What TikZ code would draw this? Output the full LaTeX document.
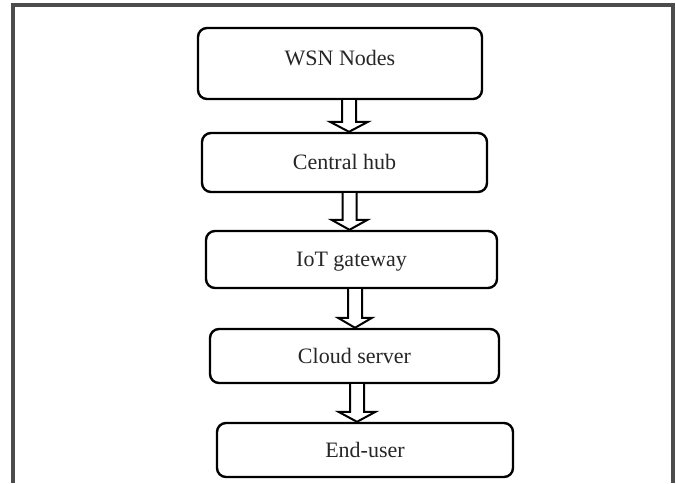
\documentclass[tikz,border=0pt]{standalone}
\usepackage{fontspec}
\setmainfont{Liberation Serif}
\usetikzlibrary{calc}
\tikzset{
  box/.style={draw=black, line width=1.2pt, rounded corners=4.5pt, inner sep=0pt,
    font=\fontsize{11}{13}\selectfont, text=black!85, text height=7pt, text depth=0pt},
  blk/.style={draw=black, fill=white, line width=1pt, line join=miter},
  frame/.style={draw=black!70, line width=1.6pt}
}
\begin{document}
\begin{tikzpicture}[x=0.5pt, y=-0.5pt]
\useasboundingbox (0,0) rectangle (676,483);
\draw[frame] (13,483) -- (13,5) -- (673,5) -- (673,483);

\node[box, minimum width=142pt, minimum height=35.5pt, text depth=5.5pt] (a) at (340,63.5) {WSN Nodes};
\node[box, minimum width=142.5pt, minimum height=29.5pt] (b) at (344.5,162.5) {Central hub};
\node[box, minimum width=145.5pt, minimum height=28.5pt] (c) at (351.5,259.5) {IoT gateway};
\node[box, minimum width=144.5pt, minimum height=27pt] (d) at (354.5,356) {Cloud server};
\node[box, minimum width=148pt, minimum height=27pt] (e) at (365,450) {End-user};

\coordinate (x1) at (349,0);
\coordinate (x2) at (349.5,0);
\coordinate (x3) at (355,0);
\coordinate (x4) at (357,0);

\draw[blk] ($(a.south -| x1)+(-7,0)$) -- ($(b.north -| x1)+(-7,-10)$) -- ($(b.north -| x1)+(-19,-10)$)
  -- (b.north -| x1) -- ($(b.north -| x1)+(19,-10)$) -- ($(b.north -| x1)+(7,-10)$) -- ($(a.south -| x1)+(7,0)$);
\draw[blk] ($(b.south -| x2)+(-7,0)$) -- ($(c.north -| x2)+(-7,-10)$) -- ($(c.north -| x2)+(-18,-10)$)
  -- (c.north -| x2) -- ($(c.north -| x2)+(18,-10)$) -- ($(c.north -| x2)+(7,-10)$) -- ($(b.south -| x2)+(7,0)$);
\draw[blk] ($(c.south -| x3)+(-7,0)$) -- ($(d.north -| x3)+(-7,-10)$) -- ($(d.north -| x3)+(-17,-10)$)
  -- (d.north -| x3) -- ($(d.north -| x3)+(17,-10)$) -- ($(d.north -| x3)+(7,-10)$) -- ($(c.south -| x3)+(7,0)$);
\draw[blk] ($(d.south -| x4)+(-7,0)$) -- ($(e.north -| x4)+(-7,-10)$) -- ($(e.north -| x4)+(-18.5,-10)$)
  -- (e.north -| x4) -- ($(e.north -| x4)+(18.5,-10)$) -- ($(e.north -| x4)+(7,-10)$) -- ($(d.south -| x4)+(7,0)$);
\end{tikzpicture}
\end{document}
